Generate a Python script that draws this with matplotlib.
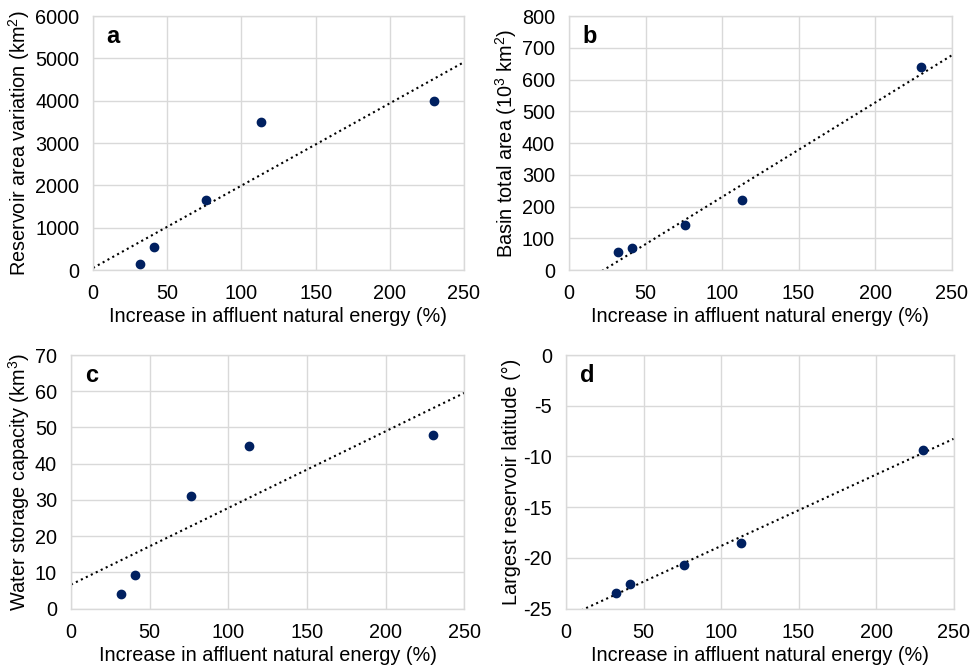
import numpy as np
import matplotlib
matplotlib.use('Agg')
import matplotlib.pyplot as plt

plt.rcParams['font.family'] = ['Liberation Sans', 'DejaVu Sans']
plt.rcParams['mathtext.default'] = 'regular'
plt.rcParams['axes.unicode_minus'] = False

# increase in affluent natural energy (%) for the five basins
energy = [32, 41, 76, 113, 230]

area_var = [135, 540, 1655, 3495, 4000]        # km2
basin_area = [56, 71, 141, 220, 640]           # 10^3 km2
storage = [4.1, 9.3, 31.1, 45.0, 47.8]         # km3
latitude = [-23.45, -22.6, -20.7, -18.5, -9.4] # degrees

panels = [
    ('a', area_var, 'Reservoir area variation (km$^2$)', (0, 6000), 1000,
     [0.0958, 0.598, 0.382, 0.378]),
    ('b', basin_area, 'Basin total area (10$^3$ km$^2$)', (0, 800), 100,
     [0.586, 0.598, 0.394, 0.378]),
    ('c', storage, 'Water storage capacity (km$^3$)', (0, 70), 10,
     [0.0731, 0.0942, 0.405, 0.3775]),
    ('d', latitude, 'Largest reservoir latitude (°)', (-25, 0), 5,
     [0.583, 0.0942, 0.399, 0.3775]),
]

navy = '#002060'
grid_c = '#d9d9d9'
fs = 14.3

fig = plt.figure(figsize=(9.71, 6.72), dpi=100)

for letter, yvals, ylab, ylim, ystep, pos in panels:
    ax = fig.add_axes(pos)
    # linear trendline (least squares) over the whole x range
    k, b = np.polyfit(energy, yvals, 1)
    xx = np.array([0, 250])
    ax.plot(xx, k * xx + b, ls=':', color='black', lw=1.5, zorder=2)
    ax.scatter(energy, yvals, s=36, color=navy, zorder=3)

    ax.set_xlim(0, 250)
    ax.set_ylim(*ylim)
    ax.set_xticks(np.arange(0, 251, 50))
    ax.set_yticks(np.arange(ylim[0], ylim[1] + ystep / 2, ystep))
    ax.grid(True, color=grid_c, lw=1)
    ax.set_axisbelow(True)
    for s in ax.spines.values():
        s.set_color(grid_c)
        s.set_linewidth(1)
    ax.tick_params(length=0, labelsize=fs, pad=10, colors='black')
    ax.set_xlabel('Increase in affluent natural energy (%)', fontsize=fs, labelpad=3)
    ax.set_ylabel(ylab, fontsize=fs, labelpad=2)
    ax.text(0.035, 0.92, letter, transform=ax.transAxes, fontsize=17,
            fontweight='bold', va='center', ha='left')

fig.savefig('out.png', dpi=100)
